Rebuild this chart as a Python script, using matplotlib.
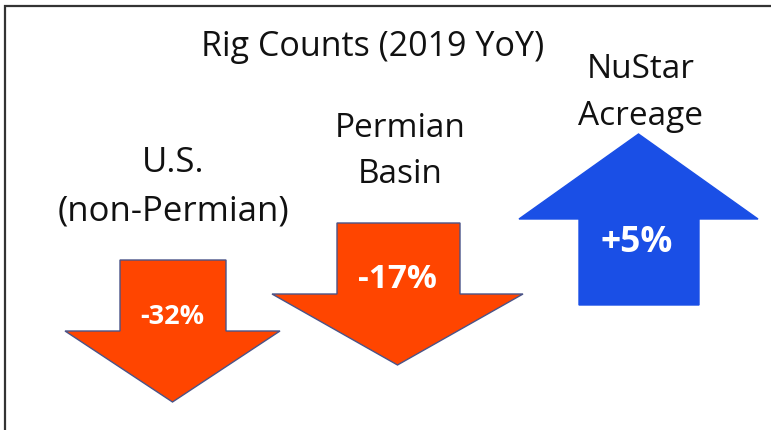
import matplotlib
matplotlib.use('Agg')
import matplotlib.pyplot as plt
from matplotlib.patches import Polygon

# chart data
categories = ['U.S.\n(non-Permian)', 'Permian\nBasin', 'NuStar\nAcreage']
changes = [-32, -17, 5]
title = 'Rig Counts (2019 YoY)'

ORANGE = '#ff4500'
BLUE = '#1a4fe6'
EDGE = '#4a5488'

# layout (pixel coords, y down): shaft x0, x1, shaft end y, head base y, head x0, x1, tip y
arrow_geom = [
    (120, 226, 260, 331, 65, 280, 402),
    (337, 460, 223, 294, 272, 523, 365),
    (579, 699, 305, 219, 519, 758, 134),
]
label_pos = [(173, [172, 220]), (400, [137, 183]), (641, [78, 125])]
label_size = [25, 24, 24]
pct_pos = [(172, 317), (397, 280), (637, 243)]
pct_size = [19.5, 24, 25.5]

plt.rcParams['font.family'] = ['Open Sans', 'DejaVu Sans']

fig = plt.figure(figsize=(7.71, 4.30), dpi=100)
ax = fig.add_axes([0, 0, 1, 1])
ax.set_xlim(0, 771)
ax.set_ylim(430, 0)
ax.axis('off')

# frame lines (left and top)
ax.plot([5, 5, 771], [430, 6, 6], color='#333333', lw=1.6, solid_joinstyle='miter')

ax.text(373, 56, title, ha='center', va='baseline', fontsize=24.5, color='#111111')

for i, ch in enumerate(changes):
    sx0, sx1, sy, hy, hx0, hx1, ty = arrow_geom[i]
    tx = (hx0 + hx1) / 2
    pts = [(sx0, sy), (sx1, sy), (sx1, hy), (hx1, hy), (tx, ty), (hx0, hy), (sx0, hy)]
    up = ch > 0
    ax.add_patch(Polygon(pts, closed=True, facecolor=BLUE if up else ORANGE,
                         edgecolor=BLUE if up else EDGE, lw=1.0, joinstyle='miter'))
    px, py = pct_pos[i]
    ax.text(px, py, f'{ch:+d}%', ha='center', va='center', color='white',
            fontsize=pct_size[i], fontweight='bold')
    cx, ys = label_pos[i]
    for line, yb in zip(categories[i].split('\n'), ys):
        ax.text(cx, yb, line, ha='center', va='baseline', fontsize=label_size[i], color='#111111')

fig.savefig('out.png', dpi=100, facecolor='white')
